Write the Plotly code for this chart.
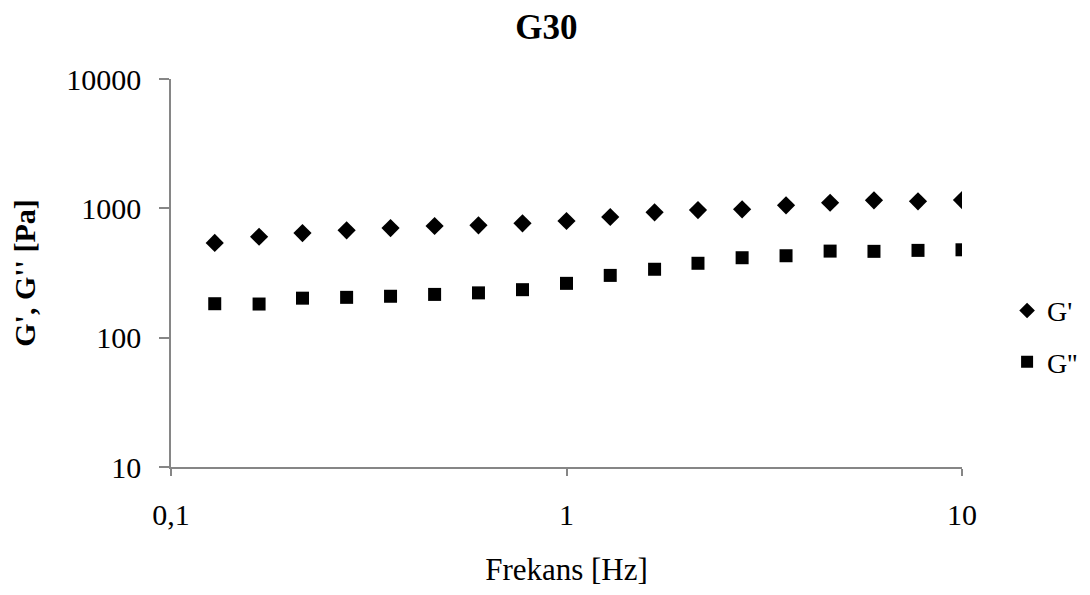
import plotly.graph_objects as go

freq = [0.129, 0.167, 0.215, 0.278, 0.359, 0.464, 0.599, 0.774, 1.0,
        1.29, 1.67, 2.15, 2.78, 3.59, 4.64, 5.99, 7.74, 10.0]
g_storage = [540, 603, 644, 676, 704, 730, 739, 766, 798,
             857, 931, 970, 982, 1055, 1105, 1153, 1133, 1159]
g_loss = [183, 182, 202, 205, 209, 216, 222, 235, 263,
          303, 338, 376, 415, 430, 467, 465, 473, 478]

x_tickvals = [0.1, 1, 10]
x_ticktext = ["0,1", "1", "10"]
y_tickvals = [10, 100, 1000, 10000]
y_ticktext = ["10", "100", "1000", "10000"]

FONT = "Liberation Serif"
AXIS_COLOR = "#868686"

fig = go.Figure()
fig.add_trace(go.Scatter(
    x=freq, y=g_storage, mode="markers", name="G'", legendgroup="a",
    marker=dict(symbol="diamond", size=14, color="black"),
))
fig.add_trace(go.Scatter(
    x=freq, y=g_loss, mode="markers", name="G''", legendgroup="b",
    marker=dict(symbol="square", size=13, color="black"),
))

fig.update_layout(
    width=1090, height=595,
    paper_bgcolor="white", plot_bgcolor="white",
    margin=dict(l=163, r=136, t=71, b=136, autoexpand=False),
    font=dict(family=FONT, color="black", size=30),
    title=dict(text="<b>G30</b>", x=0.494, xanchor="center", y=0.968, yanchor="middle",
               font=dict(family=FONT, size=35, color="black")),
    showlegend=True,
    legend=dict(x=1.057, xanchor="left", y=0.337, yanchor="middle",
                font=dict(family=FONT, size=28, color="black"),
                itemsizing="constant", tracegroupgap=12, bgcolor="rgba(0,0,0,0)"),
)
fig.update_xaxes(
    type="log", range=[-1, 1],
    tickvals=x_tickvals, ticktext=x_ticktext,
    showgrid=False, zeroline=False,
    showline=True, linecolor=AXIS_COLOR, linewidth=1.5,
    ticks="outside", ticklen=7, tickcolor=AXIS_COLOR, tickwidth=1.5,
    ticklabelstandoff=13,
    tickfont=dict(family=FONT, size=30, color="black"),
    title=dict(text="Frekans [Hz]", standoff=29, font=dict(family=FONT, size=31, color="black")),
)
fig.update_yaxes(
    type="log", range=[1, 4],
    tickvals=y_tickvals, ticktext=y_ticktext,
    showgrid=False, zeroline=False,
    showline=True, linecolor=AXIS_COLOR, linewidth=1.5,
    ticks="outside", ticklen=10, tickcolor=AXIS_COLOR, tickwidth=1.5,
    ticklabelstandoff=12,
    tickfont=dict(family=FONT, size=30, color="black"),
    title=dict(text="<b>G', G'' [Pa]</b>", standoff=24, font=dict(family=FONT, size=30, color="black")),
)

fig.write_html("out.html")
